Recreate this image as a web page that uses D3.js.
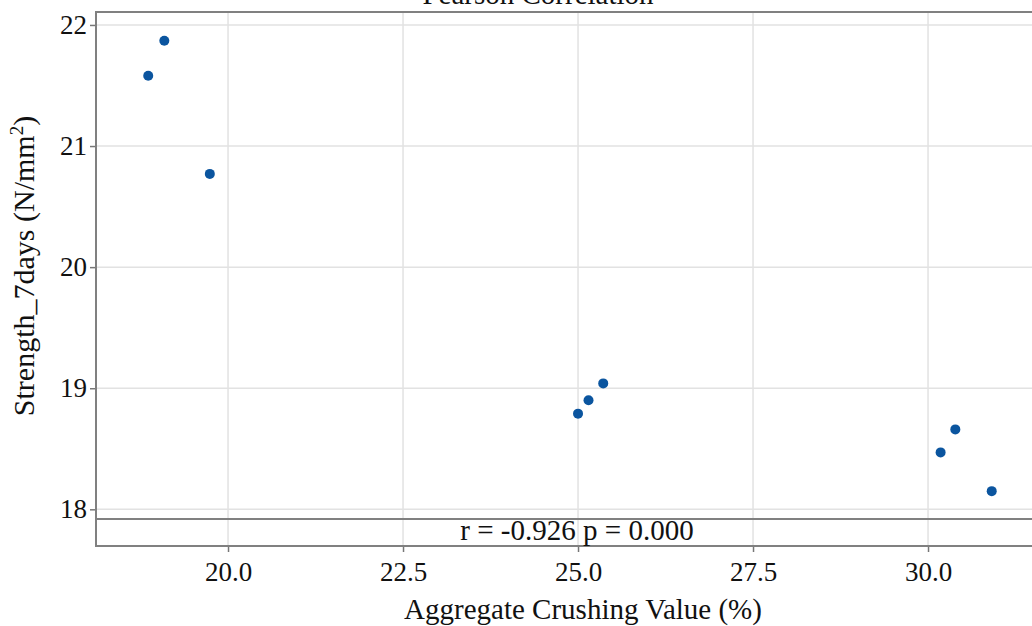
<!DOCTYPE html>
<meta charset="utf-8">
<style>
  body { margin: 0; background: #fff; }
  text { font-family: "Liberation Serif", "Times New Roman", serif; fill: #111; }
</style>
<script src="https://d3js.org/d3.v7.min.js"></script>
<body>
<div id="chart"></div>
<script>

var acv = [18.86, 19.09, 19.74, 25.00, 25.15, 25.36, 30.18, 30.39, 30.91];
var strength7 = [21.58, 21.87, 20.77, 18.79, 18.90, 19.04, 18.47, 18.66, 18.15];
var xTicks = [20.0, 22.5, 25.0, 27.5, 30.0];
var yTicks = [18, 19, 20, 21, 22];
var statText = "r = -0.926 p = 0.000";

var width = 1032,
    height = 626;

var mLeft = 96, mTop = 12, mRight = 1048, mBottom = 546;

var svg = d3.select("#chart")
  .append("svg")
    .attr("width", width)
    .attr("height", height);

var x = d3.scaleLinear()
  .domain([18.114, 31.714])
  .range([mLeft, mRight]);

var y = d3.scaleLinear()
  .domain([17.697, 22.107])
  .range([mBottom, mTop]);

// grid
svg.append("g")
  .selectAll("line")
  .data(xTicks)
  .enter().append("line")
    .attr("x1", d => x(d)).attr("x2", d => x(d))
    .attr("y1", mTop).attr("y2", mBottom)
    .attr("stroke", "#e2e2e2").attr("stroke-width", 1.5);

svg.append("g")
  .selectAll("line")
  .data(yTicks)
  .enter().append("line")
    .attr("x1", mLeft).attr("x2", mRight)
    .attr("y1", d => y(d)).attr("y2", d => y(d))
    .attr("stroke", "#e2e2e2").attr("stroke-width", 1.5);

// axes
var xAxis = svg.append("g")
  .attr("transform", "translate(0," + mBottom + ")")
  .call(d3.axisBottom(x).tickValues(xTicks).tickFormat(d3.format(".1f")).tickSize(6).tickPadding(10));

var yAxis = svg.append("g")
  .attr("transform", "translate(" + mLeft + ",0)")
  .call(d3.axisLeft(y).tickValues(yTicks).tickFormat(d3.format("d")).tickSize(6).tickPadding(3));

[xAxis, yAxis].forEach(function(a) {
  a.select(".domain").remove();
  a.selectAll(".tick line").attr("stroke", "#777").attr("stroke-width", 1.5);
  a.selectAll(".tick text")
    .style("font-family", "Liberation Serif, serif")
    .style("font-size", "27px")
    .attr("fill", "#111");
});

// stat strip line
var stripY = 519;
svg.append("line")
  .attr("x1", mLeft).attr("x2", mRight)
  .attr("y1", stripY).attr("y2", stripY)
  .attr("stroke", "#808080").attr("stroke-width", 2);

// panel border
svg.append("rect")
  .attr("x", mLeft).attr("y", mTop)
  .attr("width", mRight - mLeft).attr("height", mBottom - mTop)
  .attr("fill", "none")
  .attr("stroke", "#808080").attr("stroke-width", 2);

// points
svg.append("g")
  .selectAll("circle")
  .data(acv.map((d, i) => [d, strength7[i]]))
  .enter().append("circle")
    .attr("cx", d => x(d[0]))
    .attr("cy", d => y(d[1]))
    .attr("r", 5)
    .attr("fill", "#0b559f");

// stat text
svg.append("text")
  .attr("x", 577)
  .attr("y", 540)
  .attr("text-anchor", "middle")
  .style("font-size", "29px")
  .text(statText);

// title (cut off at top)
svg.append("text")
  .attr("x", 538)
  .attr("y", 4)
  .attr("text-anchor", "middle")
  .style("font-size", "29px")
  .text("Pearson Correlation");

// axis titles
svg.append("text")
  .attr("x", 583)
  .attr("y", 619)
  .attr("text-anchor", "middle")
  .style("font-size", "29px")
  .text("Aggregate Crushing Value (%)");

var yt = svg.append("text")
  .attr("transform", "translate(34,266) rotate(-90)")
  .attr("text-anchor", "middle")
  .style("font-size", "30px");
yt.append("tspan").text("Strength_7days (N/mm");
yt.append("tspan").attr("dy", -11).style("font-size", "19px").text("2");
yt.append("tspan").attr("dy", 11).text(")");

</script>
</body>
